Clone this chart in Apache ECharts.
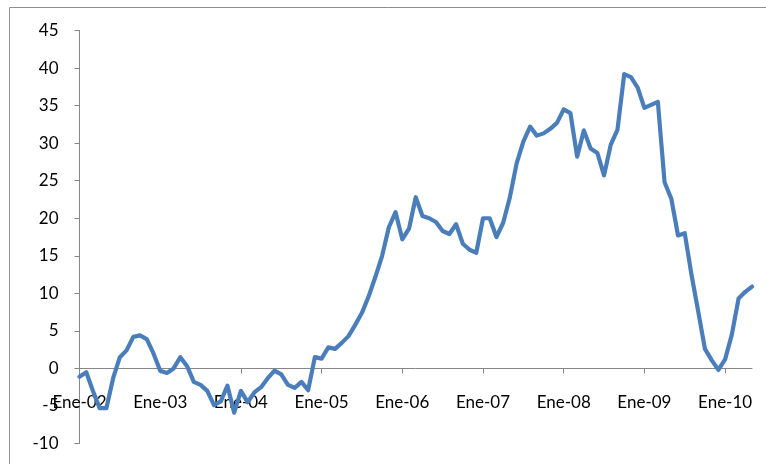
<!DOCTYPE html>
<html>
<head>
<meta charset="utf-8">
<script src="https://cdn.jsdelivr.net/npm/echarts@6/dist/echarts.min.js"></script>
<style>
html,body{margin:0;padding:0;background:#fff;}
#chart{width:766px;height:464px;}
</style>
</head>
<body>
<div id="chart"></div>
<script>
// Month abbreviations (Spanish) and years used to build the monthly categories
var monthNames = ['Ene','Feb','Mar','Abr','May','Jun','Jul','Ago','Sep','Oct','Nov','Dic'];
var years = ['02','03','04','05','06','07','08','09','10'];
// Y axis ticks
var yTicks = [-10,-5,0,5,10,15,20,25,30,35,40,45];
// Series values, monthly from Ene-02 to May-10
var values = [
  -1.1, -0.5, -3.0, -5.3, -5.3, -1.3, 1.5, 2.4, 4.2, 4.4, 3.9, 2.0,
  -0.3, -0.6, 0.0, 1.5, 0.3, -1.8, -2.2, -3.0, -4.9, -4.4, -2.3, -5.9,
  -3.0, -4.5, -3.2, -2.5, -1.3, -0.3, -0.8, -2.2, -2.6, -1.8, -2.9, 1.5,
  1.3, 2.8, 2.6, 3.4, 4.3, 5.8, 7.4, 9.6, 12.2, 15.0, 18.8, 20.8,
  17.2, 18.6, 22.8, 20.3, 20.0, 19.5, 18.3, 17.9, 19.2, 16.6, 15.8, 15.4,
  20.0, 20.0, 17.5, 19.4, 22.8, 27.3, 30.2, 32.2, 31.0, 31.3, 31.9, 32.7,
  34.5, 34.0, 28.2, 31.7, 29.3, 28.7, 25.7, 29.8, 31.8, 39.2, 38.8, 37.4,
  34.7, 35.1, 35.5, 24.8, 22.6, 17.7, 18.0, 12.5, 7.6, 2.6, 1.1, -0.2,
  1.2, 4.5, 9.3, 10.2, 10.9
];

var categories = [];
for (var y = 0; y < years.length; y++) {
  for (var m = 0; m < 12; m++) {
    if (categories.length < values.length) categories.push(monthNames[m] + '-' + years[y]);
  }
}

var gridTop = 30.5, gridBottom = 20.5, H = 464;
var plotH = H - gridTop - gridBottom;
var yMin = yTicks[0], yMax = yTicks[yTicks.length - 1];
// distance of the zero line above the grid bottom
var zeroOffset = plotH * (0 - yMin) / (yMax - yMin);

var chart = echarts.init(document.getElementById('chart'), null, {renderer: 'canvas'});
var fontFam = 'Lato';
chart.setOption({
  animation: false,
  backgroundColor: '#ffffff',
  graphic: [{
    type: 'rect',
    shape: {x: 9.5, y: 7.5, width: 800, height: 500},
    style: {fill: 'none', stroke: '#8e8e8e', lineWidth: 1},
    silent: true
  }],
  grid: {left: 79.5, right: 14, top: gridTop, bottom: gridBottom, containLabel: false, outerBoundsMode: 'none'},
  xAxis: {
    type: 'category',
    data: categories,
    boundaryGap: false,
    offset: -zeroOffset,
    axisLine: {show: true, onZero: false, lineStyle: {color: '#868686', width: 1}},
    axisTick: {show: true, interval: 11, length: 5, lineStyle: {color: '#868686'}},
    axisLabel: {
      interval: 11, margin: 26, color: '#000000', fontSize: 17, fontFamily: fontFam
    },
    splitLine: {show: false}
  },
  yAxis: {
    type: 'value',
    min: yMin,
    max: yMax,
    interval: 5,
    axisLine: {show: true, lineStyle: {color: '#868686', width: 1}},
    axisTick: {show: true, length: 5, lineStyle: {color: '#868686'}},
    axisLabel: {margin: 21, color: '#000000', fontSize: 17, fontFamily: fontFam},
    splitLine: {show: false}
  },
  series: [{
    type: 'line',
    data: values,
    showSymbol: false,
    symbol: 'none',
    smooth: false,
    lineStyle: {color: '#4A7EBB', width: 4.2, join: 'round', cap: 'round'},
    itemStyle: {color: '#4A7EBB'}
  }]
});
</script>
</body>
</html>
